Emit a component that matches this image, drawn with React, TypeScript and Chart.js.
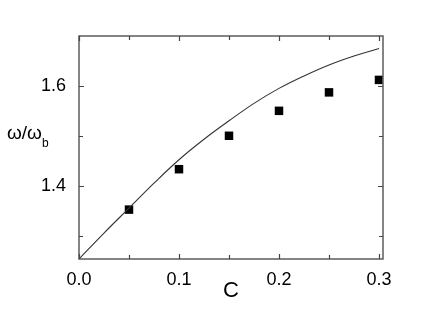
import React, { useEffect, useRef } from "react";
import { Chart, registerables } from "chart.js";

Chart.register(...registerables);

const pointX = [0.05, 0.1, 0.15, 0.2, 0.25, 0.3];
const pointY = [1.352, 1.433, 1.5, 1.55, 1.587, 1.612];

const curveX = [0, 0.025, 0.05, 0.075, 0.1, 0.125, 0.15, 0.175, 0.2, 0.225, 0.25, 0.275, 0.3];
const curveY = [1.253, 1.305, 1.355, 1.405, 1.452, 1.493, 1.53, 1.565, 1.595, 1.62, 1.642, 1.66, 1.675];

const xTicks = [0, 0.1, 0.2, 0.3];
const xMinor = [0.05, 0.15, 0.25];
const yTicks = [1.4, 1.6];
const yMinor = [1.3, 1.5];

const xTitle = "C";
const yTitleMain = "ω/ω";
const yTitleSub = "b";

const FONT = "'Liberation Sans', Arial, sans-serif";

const framePlugin = {
  id: "frame",
  afterDraw(chart: any) {
    const { ctx, chartArea: a, scales } = chart;
    const xs = scales.x;
    const ys = scales.y;
    ctx.save();
    ctx.strokeStyle = "#666";
    ctx.lineWidth = 1.6;
    ctx.strokeRect(a.left, a.top, a.right - a.left, a.bottom - a.top);
    ctx.lineWidth = 1.2;
    ctx.strokeStyle = "#444";
    const drawX = (v: number, len: number) => {
      const px = Math.round(xs.getPixelForValue(v)) + 0.5;
      ctx.beginPath();
      ctx.moveTo(px, a.bottom);
      ctx.lineTo(px, a.bottom - len);
      ctx.moveTo(px, a.top);
      ctx.lineTo(px, a.top + len);
      ctx.stroke();
    };
    const drawY = (v: number, len: number) => {
      const py = Math.round(ys.getPixelForValue(v)) + 0.5;
      ctx.beginPath();
      ctx.moveTo(a.left, py);
      ctx.lineTo(a.left + len, py);
      ctx.moveTo(a.right, py);
      ctx.lineTo(a.right - len, py);
      ctx.stroke();
    };
    xTicks.forEach((v) => drawX(v, 5));
    xMinor.forEach((v) => drawX(v, 4));
    yTicks.forEach((v) => drawY(v, 5));
    yMinor.forEach((v) => drawY(v, 4));

    // titles
    ctx.fillStyle = "#000";
    ctx.textBaseline = "middle";
    ctx.textAlign = "center";
    ctx.font = `22px ${FONT}`;
    ctx.fillText(xTitle, (a.left + a.right) / 2, 291);
    ctx.textAlign = "left";
    ctx.font = `19px ${FONT}`;
    ctx.fillText(yTitleMain, 7, 134);
    const w = ctx.measureText(yTitleMain).width;
    ctx.font = `12px ${FONT}`;
    ctx.fillText(yTitleSub, 7 + w, 144);
    ctx.restore();
  },
};

export default function App() {
  const ref = useRef<HTMLCanvasElement>(null);
  useEffect(() => {
    document.body.style.margin = "0";
    const chart = new Chart(ref.current!, {
      type: "scatter",
      data: {
        datasets: [
          {
            type: "line",
            data: curveX.map((x, i) => ({ x, y: curveY[i] })),
            borderColor: "#333",
            borderWidth: 1.1,
            pointRadius: 0,
            tension: 0.4,
            fill: false,
          },
          {
            data: pointX.map((x, i) => ({ x, y: pointY[i] })),
            pointStyle: "rect",
            pointRadius: 6,
            borderWidth: 0,
            backgroundColor: "#000",
            borderColor: "#000",
          },
        ],
      },
      options: {
        animation: false,
        responsive: false,
        layout: { padding: { left: 0, top: 36, right: 63, bottom: 0 } },
        plugins: { legend: { display: false }, tooltip: { enabled: false } },
        scales: {
          x: {
            type: "linear",
            min: 0,
            max: 0.304,
            grid: { display: false },
            border: { display: false },
            afterBuildTicks: (s: any) => {
              s.ticks = xTicks.map((v) => ({ value: v }));
            },
            afterFit: (s: any) => {
              s.height = 52;
            },
            ticks: {
              color: "#000",
              font: { family: FONT, size: 18 },
              padding: 2,
              maxRotation: 0,
              callback: (v: any) => Number(v).toFixed(1),
            },
          },
          y: {
            type: "linear",
            min: 1.253,
            max: 1.7,
            grid: { display: false },
            border: { display: false },
            afterBuildTicks: (s: any) => {
              s.ticks = yTicks.map((v) => ({ value: v }));
            },
            afterFit: (s: any) => {
              s.width = 79;
            },
            ticks: {
              color: "#000",
              font: { family: FONT, size: 18 },
              padding: 5,
              callback: (v: any) => Number(v).toFixed(1),
            },
          },
        },
      },
      plugins: [framePlugin],
    } as any);
    return () => chart.destroy();
  }, []);
  return (
    <div style={{ width: 446, height: 311 }}>
      <canvas ref={ref} width={446} height={311} style={{ display: "block" }} />
    </div>
  );
}
